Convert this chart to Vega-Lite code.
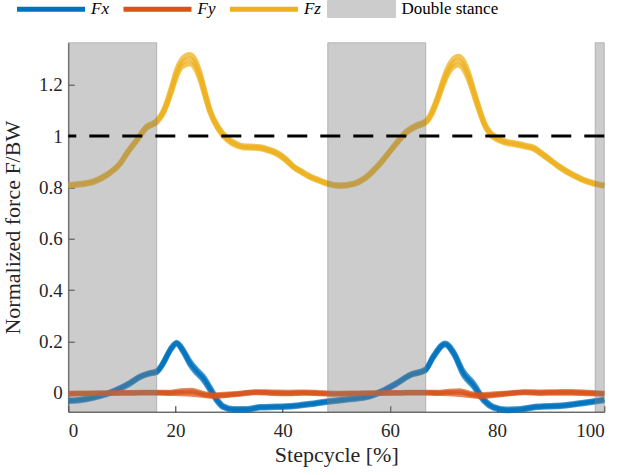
{
  "$schema": "https://vega.github.io/schema/vega-lite/v6.json",
  "width": 536,
  "height": 369,
  "autosize": "none",
  "padding": {"left": 68.3, "top": 42.7, "right": 19, "bottom": 63},
  "config": {
    "view": {"stroke": null},
    "font": "Liberation Serif",
    "axis": {
      "grid": false,
      "domainColor": "#262626",
      "tickColor": "#262626",
      "labelColor": "#262626",
      "titleColor": "#262626",
      "labelFont": "Liberation Serif",
      "titleFont": "Liberation Serif",
      "labelFontSize": 19,
      "titleFontSize": 22,
      "titleFontWeight": "normal",
      "tickSize": -6,
      "domainWidth": 1,
      "tickWidth": 1
    }
  },
  "datasets": {
    "fx": [
      {"x": 0, "a": -0.031, "b": -0.028, "c": -0.034},
      {"x": 2.2, "a": -0.028, "b": -0.025, "c": -0.031},
      {"x": 4.7, "a": -0.019, "b": -0.016, "c": -0.022},
      {"x": 7.2, "a": -0.005, "b": -0.002, "c": -0.008},
      {"x": 9.7, "a": 0.017, "b": 0.02, "c": 0.014},
      {"x": 11.5, "a": 0.037, "b": 0.04, "c": 0.034},
      {"x": 13.4, "a": 0.062, "b": 0.065, "c": 0.059},
      {"x": 15.3, "a": 0.076, "b": 0.079, "c": 0.073},
      {"x": 16.5, "a": 0.082, "b": 0.086, "c": 0.079},
      {"x": 17.7, "a": 0.115, "b": 0.119, "c": 0.111},
      {"x": 19.0, "a": 0.166, "b": 0.17, "c": 0.162},
      {"x": 20.2, "a": 0.193, "b": 0.197, "c": 0.189},
      {"x": 21.5, "a": 0.16, "b": 0.166, "c": 0.155},
      {"x": 22.7, "a": 0.115, "b": 0.123, "c": 0.108},
      {"x": 24.0, "a": 0.082, "b": 0.09, "c": 0.074},
      {"x": 25.2, "a": 0.056, "b": 0.064, "c": 0.048},
      {"x": 26.4, "a": 0.017, "b": 0.024, "c": 0.01},
      {"x": 27.7, "a": -0.028, "b": -0.022, "c": -0.033},
      {"x": 28.9, "a": -0.055, "b": -0.051, "c": -0.058},
      {"x": 30.8, "a": -0.065, "b": -0.062, "c": -0.068},
      {"x": 33.3, "a": -0.065, "b": -0.062, "c": -0.068},
      {"x": 35.8, "a": -0.057, "b": -0.054, "c": -0.06},
      {"x": 38.9, "a": -0.055, "b": -0.052, "c": -0.058},
      {"x": 42.0, "a": -0.052, "b": -0.049, "c": -0.055},
      {"x": 45.1, "a": -0.044, "b": -0.041, "c": -0.047},
      {"x": 48.2, "a": -0.035, "b": -0.032, "c": -0.038},
      {"x": 50.7, "a": -0.029, "b": -0.026, "c": -0.032},
      {"x": 52.6, "a": -0.025, "b": -0.022, "c": -0.028},
      {"x": 56.3, "a": -0.013, "b": -0.01, "c": -0.016},
      {"x": 58.8, "a": 0.008, "b": 0.011, "c": 0.005},
      {"x": 61.3, "a": 0.037, "b": 0.04, "c": 0.034},
      {"x": 63.8, "a": 0.069, "b": 0.072, "c": 0.066},
      {"x": 66.6, "a": 0.088, "b": 0.092, "c": 0.085},
      {"x": 68.1, "a": 0.14, "b": 0.144, "c": 0.136},
      {"x": 70.3, "a": 0.19, "b": 0.194, "c": 0.186},
      {"x": 71.9, "a": 0.154, "b": 0.16, "c": 0.149},
      {"x": 73.7, "a": 0.076, "b": 0.084, "c": 0.068},
      {"x": 75.6, "a": 0.03, "b": 0.038, "c": 0.022},
      {"x": 77.5, "a": -0.028, "b": -0.022, "c": -0.033},
      {"x": 79.3, "a": -0.057, "b": -0.053, "c": -0.06},
      {"x": 81.8, "a": -0.067, "b": -0.064, "c": -0.07},
      {"x": 84.3, "a": -0.065, "b": -0.062, "c": -0.068},
      {"x": 87.4, "a": -0.055, "b": -0.052, "c": -0.058},
      {"x": 92.4, "a": -0.05, "b": -0.047, "c": -0.053},
      {"x": 96.1, "a": -0.04, "b": -0.037, "c": -0.043},
      {"x": 100, "a": -0.028, "b": -0.025, "c": -0.031}
    ],
    "fy": [
      {"x": 0, "a": -0.004, "b": -0.002, "c": -0.006},
      {"x": 4, "a": -0.003, "b": -0.001, "c": -0.004},
      {"x": 8, "a": -0.002, "b": 0.0, "c": -0.003},
      {"x": 12, "a": -0.001, "b": 0.001, "c": -0.002},
      {"x": 16, "a": 0.0, "b": 0.002, "c": -0.001},
      {"x": 19, "a": -0.001, "b": 0.002, "c": -0.003},
      {"x": 21, "a": 0.002, "b": 0.008, "c": -0.004},
      {"x": 23, "a": 0.003, "b": 0.01, "c": -0.006},
      {"x": 25, "a": -0.006, "b": -0.002, "c": -0.01},
      {"x": 27, "a": -0.012, "b": -0.008, "c": -0.015},
      {"x": 29, "a": -0.01, "b": -0.006, "c": -0.012},
      {"x": 32, "a": -0.004, "b": -0.002, "c": -0.006},
      {"x": 35, "a": 0.002, "b": 0.004, "c": 0.0},
      {"x": 38, "a": 0.0, "b": 0.003, "c": -0.003},
      {"x": 41, "a": -0.002, "b": 0.002, "c": -0.004},
      {"x": 44, "a": 0.0, "b": 0.003, "c": -0.002},
      {"x": 47, "a": -0.002, "b": 0.0, "c": -0.004},
      {"x": 50, "a": -0.004, "b": -0.002, "c": -0.006},
      {"x": 54, "a": -0.003, "b": -0.001, "c": -0.004},
      {"x": 58, "a": -0.002, "b": 0.0, "c": -0.003},
      {"x": 62, "a": -0.001, "b": 0.001, "c": -0.002},
      {"x": 66, "a": 0.0, "b": 0.002, "c": -0.001},
      {"x": 69, "a": -0.001, "b": 0.002, "c": -0.003},
      {"x": 71, "a": 0.001, "b": 0.006, "c": -0.004},
      {"x": 73, "a": 0.002, "b": 0.008, "c": -0.007},
      {"x": 75, "a": -0.007, "b": -0.003, "c": -0.011},
      {"x": 77, "a": -0.012, "b": -0.008, "c": -0.015},
      {"x": 79, "a": -0.009, "b": -0.005, "c": -0.012},
      {"x": 82, "a": -0.003, "b": -0.001, "c": -0.005},
      {"x": 85, "a": 0.002, "b": 0.004, "c": 0.0},
      {"x": 88, "a": 0.0, "b": 0.003, "c": -0.003},
      {"x": 91, "a": 0.001, "b": 0.004, "c": -0.002},
      {"x": 94, "a": 0.001, "b": 0.005, "c": -0.002},
      {"x": 97, "a": -0.001, "b": 0.002, "c": -0.004},
      {"x": 100, "a": -0.004, "b": -0.002, "c": -0.006}
    ],
    "fz": [
      {"x": 0, "a": 0.804, "b": 0.807, "c": 0.81},
      {"x": 2, "a": 0.809, "b": 0.812, "c": 0.815},
      {"x": 4.7, "a": 0.82, "b": 0.823, "c": 0.826},
      {"x": 7.2, "a": 0.846, "b": 0.849, "c": 0.852},
      {"x": 9.7, "a": 0.891, "b": 0.894, "c": 0.897},
      {"x": 11, "a": 0.932, "b": 0.935, "c": 0.938},
      {"x": 12.8, "a": 0.982, "b": 0.985, "c": 0.988},
      {"x": 14.6, "a": 1.031, "b": 1.035, "c": 1.039},
      {"x": 16.5, "a": 1.053, "b": 1.057, "c": 1.061},
      {"x": 17.5, "a": 1.08, "b": 1.085, "c": 1.09},
      {"x": 18.4, "a": 1.121, "b": 1.128, "c": 1.135},
      {"x": 19.3, "a": 1.175, "b": 1.185, "c": 1.195},
      {"x": 20.2, "a": 1.232, "b": 1.245, "c": 1.258},
      {"x": 21.2, "a": 1.27, "b": 1.285, "c": 1.3},
      {"x": 22.7, "a": 1.282, "b": 1.3, "c": 1.318},
      {"x": 23.7, "a": 1.263, "b": 1.28, "c": 1.297},
      {"x": 24.6, "a": 1.218, "b": 1.232, "c": 1.246},
      {"x": 25.5, "a": 1.155, "b": 1.165, "c": 1.175},
      {"x": 26.4, "a": 1.093, "b": 1.1, "c": 1.107},
      {"x": 28.0, "a": 1.025, "b": 1.03, "c": 1.035},
      {"x": 29.6, "a": 0.985, "b": 0.99, "c": 0.995},
      {"x": 31, "a": 0.965, "b": 0.97, "c": 0.975},
      {"x": 32.7, "a": 0.954, "b": 0.958, "c": 0.962},
      {"x": 34.3, "a": 0.953, "b": 0.957, "c": 0.961},
      {"x": 35.8, "a": 0.951, "b": 0.955, "c": 0.959},
      {"x": 37.5, "a": 0.941, "b": 0.945, "c": 0.949},
      {"x": 38.9, "a": 0.929, "b": 0.933, "c": 0.937},
      {"x": 40.5, "a": 0.906, "b": 0.91, "c": 0.914},
      {"x": 42.0, "a": 0.878, "b": 0.881, "c": 0.884},
      {"x": 43.6, "a": 0.857, "b": 0.86, "c": 0.863},
      {"x": 45.1, "a": 0.839, "b": 0.842, "c": 0.845},
      {"x": 46.7, "a": 0.825, "b": 0.828, "c": 0.831},
      {"x": 48.2, "a": 0.813, "b": 0.816, "c": 0.819},
      {"x": 50.7, "a": 0.804, "b": 0.807, "c": 0.81},
      {"x": 53.2, "a": 0.811, "b": 0.814, "c": 0.817},
      {"x": 55.7, "a": 0.839, "b": 0.842, "c": 0.845},
      {"x": 58.2, "a": 0.891, "b": 0.894, "c": 0.897},
      {"x": 60.7, "a": 0.956, "b": 0.959, "c": 0.962},
      {"x": 63.2, "a": 1.014, "b": 1.018, "c": 1.022},
      {"x": 65.0, "a": 1.036, "b": 1.04, "c": 1.044},
      {"x": 66.8, "a": 1.053, "b": 1.057, "c": 1.061},
      {"x": 67.8, "a": 1.084, "b": 1.09, "c": 1.096},
      {"x": 68.8, "a": 1.133, "b": 1.141, "c": 1.149},
      {"x": 69.7, "a": 1.185, "b": 1.195, "c": 1.205},
      {"x": 70.6, "a": 1.232, "b": 1.245, "c": 1.258},
      {"x": 71.6, "a": 1.265, "b": 1.28, "c": 1.295},
      {"x": 72.8, "a": 1.277, "b": 1.294, "c": 1.311},
      {"x": 73.8, "a": 1.258, "b": 1.275, "c": 1.292},
      {"x": 74.7, "a": 1.218, "b": 1.232, "c": 1.246},
      {"x": 75.8, "a": 1.15, "b": 1.16, "c": 1.17},
      {"x": 76.9, "a": 1.082, "b": 1.089, "c": 1.096},
      {"x": 77.8, "a": 1.035, "b": 1.04, "c": 1.045},
      {"x": 78.7, "a": 1.006, "b": 1.011, "c": 1.016},
      {"x": 80, "a": 0.985, "b": 0.99, "c": 0.995},
      {"x": 81.2, "a": 0.975, "b": 0.979, "c": 0.983},
      {"x": 82.7, "a": 0.968, "b": 0.972, "c": 0.976},
      {"x": 84.3, "a": 0.962, "b": 0.966, "c": 0.97},
      {"x": 85.5, "a": 0.956, "b": 0.96, "c": 0.964},
      {"x": 86.8, "a": 0.949, "b": 0.953, "c": 0.957},
      {"x": 88.3, "a": 0.928, "b": 0.932, "c": 0.936},
      {"x": 89.9, "a": 0.904, "b": 0.907, "c": 0.91},
      {"x": 91.5, "a": 0.879, "b": 0.882, "c": 0.885},
      {"x": 93.0, "a": 0.859, "b": 0.862, "c": 0.865},
      {"x": 94.5, "a": 0.842, "b": 0.845, "c": 0.848},
      {"x": 96.1, "a": 0.826, "b": 0.829, "c": 0.832},
      {"x": 98, "a": 0.813, "b": 0.816, "c": 0.819},
      {"x": 100, "a": 0.804, "b": 0.807, "c": 0.81}
    ],
    "stance": [
      {"x1": 0, "x2": 16.5},
      {"x1": 48.4, "x2": 66.7},
      {"x1": 98.3, "x2": 100}
    ],
    "ref": [{"y": 1}]
  },
  "layer": [
    {
      "data": {"name": "fx"},
      "transform": [{"fold": ["a", "b", "c"], "as": ["t", "y"]}],
      "mark": {"type": "line", "strokeWidth": 5, "opacity": 0.7, "interpolate": "monotone", "color": "#0072BD"},
      "encoding": {
        "x": {
          "field": "x", "type": "quantitative", "title": "Stepcycle [%]",
          "scale": {"domain": [0, 100], "nice": false, "zero": false},
          "axis": {"values": [0, 20, 40, 60, 80, 100], "labelPadding": 16, "titlePadding": 4}
        },
        "y": {
          "field": "y", "type": "quantitative", "title": "Normalized force F/BW",
          "scale": {"domain": [-0.074, 1.364], "nice": false, "zero": false},
          "axis": {"values": [0, 0.2, 0.4, 0.6, 0.8, 1, 1.2], "format": "~g", "labelPadding": 12, "titlePadding": 14}
        },
        "detail": {"field": "t"}
      }
    },
    {
      "data": {"name": "fy"},
      "transform": [{"fold": ["a", "b", "c"], "as": ["t", "y"]}],
      "mark": {"type": "line", "strokeWidth": 5, "opacity": 0.7, "interpolate": "monotone", "color": "#D95319"},
      "encoding": {
        "x": {"field": "x", "type": "quantitative", "title": "Stepcycle [%]"},
        "y": {"field": "y", "type": "quantitative", "title": "Normalized force F/BW"},
        "detail": {"field": "t"}
      }
    },
    {
      "data": {"name": "fz"},
      "transform": [{"fold": ["a", "b", "c"], "as": ["t", "y"]}],
      "mark": {"type": "line", "strokeWidth": 5, "opacity": 0.75, "interpolate": "monotone", "color": "#EDB120"},
      "encoding": {
        "x": {"field": "x", "type": "quantitative", "title": "Stepcycle [%]"},
        "y": {"field": "y", "type": "quantitative", "title": "Normalized force F/BW"},
        "detail": {"field": "t"}
      }
    },
    {
      "data": {"name": "stance"},
      "mark": {"type": "rect", "fill": "#808080", "fillOpacity": 0.4, "stroke": "#808080", "strokeOpacity": 0.45, "strokeWidth": 1},
      "encoding": {
        "x": {"field": "x1", "type": "quantitative", "title": "Stepcycle [%]"},
        "x2": {"field": "x2"}
      }
    },
    {
      "data": {"name": "ref"},
      "mark": {"type": "rule", "color": "#000000", "strokeWidth": 3, "strokeDash": [20, 13]},
      "encoding": {
        "y": {"field": "y", "type": "quantitative", "title": "Normalized force F/BW"}
      }
    },
    {
      "data": {"values": [{"s": "Fx"}, {"s": "Fy"}, {"s": "Fz"}, {"s": "Double stance"}]},
      "mark": {"type": "line", "strokeWidth": 5},
      "encoding": {
        "color": {
          "field": "s",
          "type": "nominal",
          "scale": {"domain": ["Fx", "Fy", "Fz", "Double stance"], "range": ["#0072BD", "#D95319", "#EDB120", "#CCCCCC"]},
          "legend": {
            "orient": "none",
            "direction": "horizontal",
            "legendX": -25.8,
            "legendY": -42.2,
            "title": null,
            "padding": 0,
            "symbolType": "stroke",
            "symbolSize": 4624,
            "symbolStrokeWidth": 5,
            "symbolOpacity": 1,
            "labelOffset": 31.5,
            "columnPadding": 3.5,
            "labelFont": "Liberation Serif",
            "labelFontSize": 17,
            "labelColor": "#000000",
            "encode": {
              "symbols": {
                "update": {
                  "shape": {"signal": "datum.value === 'Double stance' ? 'M-1,-0.25H1V0.25H-1Z' : 'stroke'"},
                  "fill": {"signal": "datum.value === 'Double stance' ? '#CCCCCC' : 'transparent'"},
                  "stroke": {"signal": "datum.value === 'Double stance' ? '#ADADAD' : (datum.value === 'Fx' ? '#0072BD' : (datum.value === 'Fy' ? '#D95319' : '#EDB120'))"},
                  "strokeWidth": {"signal": "datum.value === 'Double stance' ? 1 : 5"}
                }
              },
              "labels": {
                "update": {
                  "fontStyle": {"signal": "datum.value === 'Double stance' ? 'normal' : 'italic'"}
                }
              }
            }
          }
        }
      }
    }
  ]
}
